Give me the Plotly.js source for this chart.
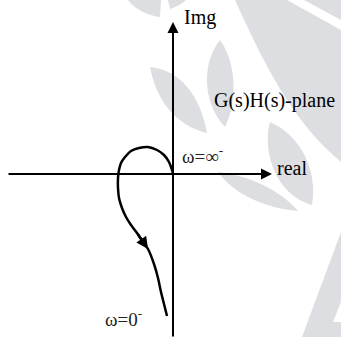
<!DOCTYPE html>
<html>
<head>
<meta charset="utf-8">
<script src="https://cdn.plot.ly/plotly-3.0.1.min.js"></script>
<style>
  html, body { margin: 0; padding: 0; background: #ffffff; }
  #plot { width: 341px; height: 337px; }
</style>
</head>
<body>
<div id="plot"></div>
<script>
// Nyquist locus of G(s)H(s): real and imaginary parts along the path
const locusReal = [0.0, -0.1, -0.4, -0.9, -1.6, -2.5, -3.4, -4.2, -4.8, -5.2, -5.4, -5.5, -5.5, -5.4, -5.1, -4.7, -4.2, -3.6, -3.0, -2.5, -1.9, -1.5, -1.2, -0.9, -0.6];
const locusImag = [0.0, 0.4, 1.2, 1.9, 2.4, 2.7, 2.6, 2.3, 1.7, 1.1, 0.4, -0.4, -1.4, -2.4, -3.4, -4.3, -5.1, -5.9, -6.8, -7.5, -9.0, -10.4, -11.8, -13.0, -14.2];

// direction marker on the locus (tail -> head)
const dirReal = [-3.6, -2.5];
const dirImag = [-5.9, -7.5];

// axes of the plane (start -> arrow tip)
const realAxisReal = [-16.6, 9.9];
const realAxisImag = [0, 0];
const imagAxisReal = [0, 0];
const imagAxisImag = [-16.4, 15.2];

// labels
const labelText = ['Img', 'G(s)H(s)-plane', 'real', 'ω=∞<sup>-</sup>', 'ω=0<sup>-</sup>'];
const labelReal = [0.9, 3.9, 10.2, 0.7, -7.0];
const labelImag = [15.7, 7.4, 0.6, 1.9, -14.4];

// faint leaf pattern behind the plane
const leafSvg =
  '<svg xmlns="http://www.w3.org/2000/svg" width="341" height="337" viewBox="0 0 341 337" preserveAspectRatio="none">' +
  '<g fill="#dddee1">' +
  '<path d="M235,0 C260,55 290,120 341,162 L341,30 L287,0 Z"/>' +
  '<path d="M304,0 L341,0 L341,20 Z"/>' +
  '<path d="M220,40 C200,65 204,105 225,127 C238,100 236,62 220,40 Z"/>' +
  '<path d="M150,67 C180,70 200,95 207,133 C185,128 158,110 150,67 Z"/>' +
  '<path d="M270,122 C262,150 275,195 312,205 C318,170 300,135 270,122 Z"/>' +
  '<path d="M218,172 C235,195 265,208 298,211 C285,195 255,176 218,172 Z"/>' +
  '<path d="M128,0 C135,10 150,16 160,17 L161,0 Z"/>' +
  '<path d="M168,0 L186,0 C182,4 176,7 170,9 Z"/>' +
  '<path d="M341,232 L302,337 L341,337 Z"/>' +
  '</g>' +
  '<path d="M341,302 L333,322 L341,322 Z" fill="#ffffff"/>' +
  '</svg>';

const serif = '"Liberation Serif", "Times New Roman", serif';

// straight arrow from the first to the last point of a pair of arrays
function arrow(xs, ys, width, size) {
  return {
    x: xs[1], y: ys[1], ax: xs[0], ay: ys[0],
    xref: 'x', yref: 'y', axref: 'x', ayref: 'y',
    text: '', showarrow: true, arrowhead: 2,
    arrowsize: size, arrowwidth: width, arrowcolor: '#000'
  };
}

const annotations = [
  arrow(realAxisReal, realAxisImag, 2, 1.1),
  arrow(imagAxisReal, imagAxisImag, 2, 1.1),
  arrow(dirReal, dirImag, 2.5, 0.95)
];

labelText.forEach((t, i) => {
  const small = t.startsWith('ω');
  annotations.push({
    x: labelReal[i], y: labelImag[i], xref: 'x', yref: 'y',
    text: t, showarrow: false, xanchor: 'left', yanchor: 'middle',
    font: { family: serif, size: small ? 19 : 20, color: small ? '#222' : '#000' }
  });
});

const data = [{
  x: locusReal, y: locusImag, type: 'scatter', mode: 'lines',
  line: { color: '#000', width: 2.5, shape: 'spline', smoothing: 1 },
  hoverinfo: 'skip'
}];

const layout = {
  width: 341, height: 337,
  margin: { l: 0, r: 0, t: 0, b: 0, pad: 0 },
  paper_bgcolor: '#ffffff', plot_bgcolor: 'rgba(0,0,0,0)',
  showlegend: false,
  xaxis: { range: [-17.3, 16.8], visible: false, fixedrange: true },
  yaxis: { range: [-16.3, 17.4], visible: false, fixedrange: true },
  images: [{
    source: 'data:image/svg+xml;charset=utf-8,' + encodeURIComponent(leafSvg),
    xref: 'paper', yref: 'paper', x: 0, y: 1, sizex: 1, sizey: 1,
    sizing: 'stretch', xanchor: 'left', yanchor: 'top', layer: 'below'
  }],
  annotations: annotations
};

Plotly.newPlot('plot', data, layout, { displayModeBar: false, staticPlot: true });
</script>
</body>
</html>
